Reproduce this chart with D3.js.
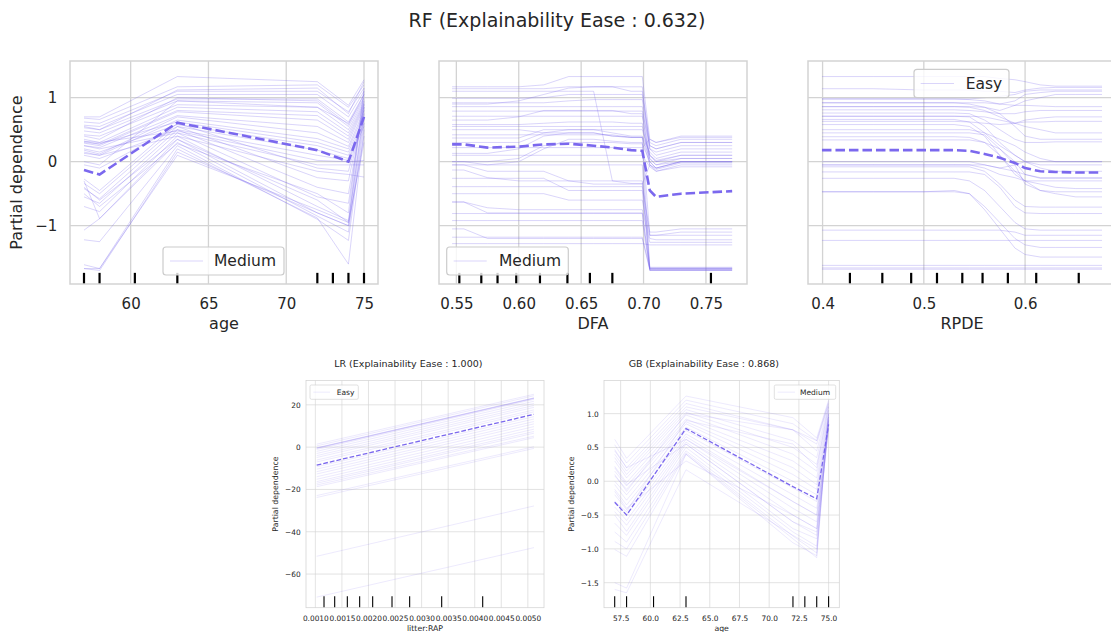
<!DOCTYPE html>
<html><head><meta charset="utf-8">
<script src="https://cdn.jsdelivr.net/npm/d3@7"></script>
<style>body{margin:0;background:#fff}svg{display:block;font-family:"DejaVu Sans",sans-serif}</style>
</head><body><svg id="c" width="1111" height="632"></svg>
<script>
// ---------------- DATA ----------------
const mainTitle = "RF (Explainability Ease : 0.632)";
const lrTitle = "LR (Explainability Ease : 1.000)";
const gbTitle = "GB (Explainability Ease : 0.868)";

// RF / age
const rfAgeGrid = [57, 58, 63, 72, 74, 75];
const rfAgeIce = [
  [0.70, 0.70, 1.33, 1.25, 0.88, 1.28],
  [0.68, 0.66, 1.17, 1.20, 0.85, 1.20],
  [0.62, 0.60, 1.10, 1.10, 0.78, 1.15],
  [0.57, 0.55, 1.05, 1.05, 0.70, 1.10],
  [0.53, 0.50, 0.98, 0.98, 0.62, 1.05],
  [0.48, 0.45, 0.95, 0.92, 0.55, 0.98],
  [0.42, 0.40, 0.89, 0.85, 0.50, 0.95],
  [0.35, 0.30, 0.85, 0.78, 0.45, 0.92],
  [0.32, 0.27, 0.80, 0.72, 0.40, 0.90],
  [0.29, 0.25, 0.78, 0.65, 0.35, 0.88],
  [0.25, 0.22, 0.72, 0.55, 0.30, 0.85],
  [0.18, 0.12, 0.70, 0.45, 0.24, 0.80],
  [0.13, 0.10, 0.65, 0.36, 0.20, 0.75],
  [0.30, 0.28, 0.62, 0.30, 0.15, 0.70],
  [0.20, 0.15, 0.58, 0.25, 0.10, 0.65],
  [-0.05, -0.10, 0.55, 0.18, 0.05, 0.60],
  [0.10, 0.05, 0.50, 0.10, 0.02, 0.55],
  [0.32, 0.30, 0.48, 0.02, 0.00, 0.02],
  [0.25, 0.20, 0.45, -0.05, -0.05, -0.05],
  [0.15, 0.10, 0.40, -0.15, -0.20, -0.24],
  [-0.27, -0.45, 0.60, -0.10, -0.15, 0.80],
  [-0.34, -0.50, 0.55, -0.25, -0.30, 0.85],
  [-0.42, -0.58, 0.50, -0.40, -0.50, 0.90],
  [-0.55, -0.65, 0.45, -0.55, -0.65, 0.95],
  [-0.70, -0.78, 0.40, -0.70, -0.92, 0.75],
  [-0.30, -0.89, 0.35, -0.80, -1.00, 0.85],
  [-1.07, -0.89, 0.30, -0.85, -1.10, 0.70],
  [-1.22, -1.25, 0.25, -0.90, -1.23, 0.60],
  [-1.61, -1.67, 0.20, -0.88, -1.60, 0.50],
  [-1.67, -1.70, 0.15, -0.80, -1.00, 0.40],
  [-1.67, -1.67, 0.10, -0.75, -0.95, 0.30],
  [-0.40, -0.60, 0.35, -0.60, -0.95, 1.10],
  [-0.50, -0.70, 0.28, -0.50, -0.80, 1.15],
  [0.00, -0.05, 0.95, 0.85, 0.60, 1.00],
  [0.55, 0.50, 1.12, 1.15, 0.75, 1.25],
  [0.40, 0.35, 1.00, 0.95, 0.58, 1.05]
];
const rfAgePd = [-0.13, -0.20, 0.61, 0.18, 0.00, 0.70];
const ageRug = [57, 58, 60.27, 63, 72, 73, 74, 75];

// RF / DFA
const rfDfaGrid = [0.5466, 0.556, 0.575, 0.60, 0.62, 0.64, 0.66, 0.675, 0.69, 0.699, 0.705, 0.71, 0.73, 0.771];
const rfDfaIce = [
  [1.17, 1.17, 1.17, 1.17, 1.20, 1.33, 1.33, 1.33, 1.33, 1.33, 0.35, 0.30, 0.40, 0.40],
  [1.14, 1.14, 1.14, 1.14, 1.14, 1.17, 1.17, 1.17, 1.10, 1.10, 0.30, 0.25, 0.35, 0.35],
  [0.99, 0.99, 0.99, 0.99, 1.00, 1.05, 1.05, 1.05, 1.05, 1.05, 0.25, 0.20, 0.30, 0.30],
  [0.92, 0.92, 0.92, 0.92, 0.92, 0.95, 0.97, 0.97, 0.97, 0.97, 0.20, 0.10, 0.20, 0.20],
  [0.86, 0.86, 0.86, 0.86, 0.86, 0.86, 0.86, 0.86, 0.86, 0.86, 0.10, 0.00, 0.05, 0.05],
  [1.10, 1.10, 1.10, 1.10, 1.10, 1.10, 1.10, -0.30, -0.34, -0.34, -1.10, -1.10, -1.05, -1.05],
  [0.71, 0.71, 0.71, 0.71, 0.71, 0.71, 0.71, 0.71, 0.71, 0.71, 0.05, -0.05, 0.00, 0.00],
  [0.65, 0.65, 0.65, 0.70, 0.80, 0.80, 0.80, 0.80, 0.75, 0.75, 0.00, -0.10, 0.00, 0.00],
  [0.58, 0.58, 0.58, 0.58, 0.60, 0.62, 0.62, 0.62, 0.60, 0.60, -0.05, -0.10, 0.00, 0.00],
  [0.50, 0.50, 0.50, 0.50, 0.45, 0.45, 0.45, 0.40, 0.38, 0.38, -0.05, -0.12, -0.02, -0.02],
  [0.42, 0.42, 0.42, 0.42, 0.42, 0.42, 0.42, 0.42, 0.38, 0.38, -1.15, -1.15, -1.10, -1.10],
  [0.37, 0.37, 0.37, 0.37, 0.50, 0.50, 0.50, 0.50, 0.50, 0.50, 0.10, 0.00, 0.10, 0.10],
  [0.13, 0.13, 0.13, 0.20, 0.40, 0.45, 0.45, 0.40, 0.38, 0.38, 0.05, -0.05, 0.05, 0.05],
  [0.00, 0.00, 0.00, 0.05, 0.25, 0.30, 0.30, 0.30, 0.28, 0.28, 0.00, -0.10, 0.00, 0.00],
  [0.00, 0.00, -0.05, 0.00, 0.20, 0.35, 0.35, 0.32, 0.30, 0.30, -1.65, -1.65, -1.65, -1.65],
  [-0.05, -0.05, -0.05, -0.05, -0.05, -0.05, -0.05, -0.05, -0.05, -0.05, -1.68, -1.68, -1.68, -1.68],
  [-0.13, -0.13, -0.25, -0.30, -0.30, -0.30, -0.30, -0.30, -0.30, -0.30, -1.70, -1.70, -1.70, -1.70],
  [-0.26, -0.26, -0.26, -0.26, -0.26, -0.45, -0.45, -0.45, -0.45, -0.45, -1.66, -1.66, -1.66, -1.66],
  [-0.39, -0.39, -0.39, -0.39, -0.39, -0.39, -0.39, -0.39, -0.39, -0.39, -1.15, -1.15, -1.15, -1.15],
  [-0.50, -0.50, -0.50, -0.50, -0.50, -0.60, -0.60, -0.60, -0.60, -0.60, -1.20, -1.22, -1.22, -1.22],
  [-0.63, -0.63, -0.72, -0.75, -0.75, -0.75, -0.75, -0.75, -0.75, -0.75, -1.26, -1.26, -1.26, -1.26],
  [-0.63, -0.63, -0.80, -0.80, -0.80, -0.80, -0.80, -0.80, -0.80, -0.80, -1.67, -1.67, -1.67, -1.67],
  [-0.81, -0.81, -0.81, -0.81, -0.81, -0.81, -0.81, -0.81, -0.81, -0.81, -1.68, -1.68, -1.68, -1.68],
  [-0.92, -0.92, -0.92, -0.92, -0.92, -0.92, -0.92, -0.92, -0.92, -0.92, -1.70, -1.70, -1.70, -1.70],
  [-1.05, -1.05, -1.20, -1.20, -1.20, -1.20, -1.20, -1.20, -1.20, -1.20, -1.69, -1.69, -1.69, -1.69],
  [-1.18, -1.18, -1.18, -1.18, -1.18, -1.18, -1.18, -1.18, -1.18, -1.18, -1.67, -1.67, -1.67, -1.67],
  [-1.28, -1.28, -1.28, -1.28, -1.28, -1.28, -1.28, -1.28, -1.28, -1.28, -1.30, -1.30, -1.30, -1.30],
  [0.30, 0.30, 0.30, 0.30, 0.45, 0.50, 0.50, 0.45, 0.40, 0.40, 0.15, 0.05, 0.15, 0.15],
  [0.22, 0.22, 0.22, 0.22, 0.22, 0.22, 0.22, 0.22, 0.22, 0.22, 0.35, 0.30, 0.38, 0.38],
  [0.79, 0.79, 0.79, 0.79, 0.79, 0.79, 0.79, 0.79, 0.79, 0.79, 0.25, 0.20, 0.30, 0.30],
  [0.90, 0.90, 0.90, 0.95, 1.05, 1.15, 1.17, 1.17, 1.17, 1.17, 0.20, 0.15, 0.25, 0.25],
  [-0.05, -0.05, -0.15, -0.15, -0.15, -0.30, -0.35, -0.35, -0.35, -0.35, -0.05, -0.15, -0.05, -0.05],
  [0.10, 0.10, 0.10, 0.10, 0.10, 0.10, 0.10, 0.10, 0.10, 0.10, -0.08, -0.15, -0.08, -0.08],
  [0.55, 0.55, 0.55, 0.55, 0.55, 0.55, 0.55, 0.55, 0.55, 0.55, 0.10, 0.02, 0.10, 0.10]
];
const rfDfaPd = [0.27, 0.27, 0.22, 0.235, 0.27, 0.28, 0.25, 0.22, 0.18, 0.17, -0.45, -0.55, -0.50, -0.46];
const dfaRug = [0.5524, 0.570, 0.583, 0.598, 0.617, 0.639, 0.657, 0.675, 0.754];

// RF / RPDE
const rfRpdeGrid = [0.3994, 0.45, 0.50, 0.53, 0.545, 0.56, 0.575, 0.59, 0.60, 0.615, 0.63, 0.65, 0.676];
const rfRpdeIce = [
  [1.33, 1.33, 1.33, 1.33, 1.33, 1.33, 1.30, 1.28, 1.25, 1.20, 1.18, 1.18, 1.18],
  [1.14, 1.14, 1.12, 1.12, 1.12, 1.10, 1.10, 1.08, 1.12, 1.15, 1.16, 1.16, 1.16],
  [0.98, 0.98, 0.98, 0.98, 0.98, 1.00, 1.02, 1.05, 1.10, 1.12, 1.12, 1.12, 1.12],
  [0.98, 0.98, 0.98, 0.98, 0.97, 0.95, 0.90, 0.95, 1.05, 1.08, 1.10, 1.10, 1.10],
  [0.92, 0.92, 0.92, 0.92, 0.92, 0.92, 0.90, 0.88, 0.88, 0.87, 0.86, 0.86, 0.86],
  [0.86, 0.86, 0.86, 0.86, 0.85, 0.80, 0.70, 0.60, 0.55, 0.50, 0.45, 0.45, 0.45],
  [0.81, 0.81, 0.81, 0.81, 0.80, 0.78, 0.75, 0.75, 0.78, 0.80, 0.80, 0.80, 0.80],
  [0.76, 0.76, 0.76, 0.76, 0.75, 0.65, 0.50, 0.35, 0.30, 0.30, 0.31, 0.31, 0.31],
  [0.71, 0.71, 0.71, 0.71, 0.70, 0.55, 0.30, 0.10, 0.00, -0.05, -0.05, -0.05, -0.05],
  [0.63, 0.63, 0.63, 0.63, 0.62, 0.60, 0.58, 0.60, 0.65, 0.68, 0.70, 0.70, 0.70],
  [0.58, 0.58, 0.58, 0.58, 0.55, 0.40, 0.10, -0.20, -0.30, -0.35, -0.40, -0.42, -0.42],
  [0.50, 0.50, 0.50, 0.50, 0.50, 0.45, 0.35, 0.25, 0.15, 0.05, 0.00, 0.00, 0.00],
  [0.39, 0.39, 0.39, 0.39, 0.38, 0.30, 0.10, -0.15, -0.30, -0.45, -0.50, -0.55, -0.55],
  [0.34, 0.34, 0.34, 0.34, 0.34, 0.30, 0.20, 0.00, -0.20, -0.25, -0.25, -0.25, -0.25],
  [-0.05, -0.05, -0.05, -0.05, -0.05, -0.10, -0.20, -0.25, -0.30, -0.30, -0.30, -0.30, -0.30],
  [-0.08, -0.08, -0.08, -0.08, -0.08, -0.15, -0.35, -0.60, -0.70, -0.71, -0.71, -0.71, -0.71],
  [-0.16, -0.16, -0.16, -0.16, -0.16, -0.20, -0.40, -0.70, -0.80, -0.81, -0.81, -0.81, -0.81],
  [-0.26, -0.26, -0.26, -0.26, -0.30, -0.45, -0.70, -0.95, -1.05, -1.07, -1.07, -1.07, -1.07],
  [-0.47, -0.47, -0.47, -0.47, -0.50, -0.70, -0.95, -1.20, -1.30, -1.34, -1.34, -1.34, -1.34],
  [-0.47, -0.47, -0.47, -0.45, -0.50, -0.75, -1.05, -1.35, -1.45, -1.49, -1.49, -1.49, -1.49],
  [-1.07, -1.07, -1.07, -1.07, -1.07, -1.07, -1.07, -1.10, -1.15, -1.15, -1.15, -1.15, -1.15],
  [-1.23, -1.23, -1.23, -1.23, -1.23, -1.23, -1.23, -1.23, -1.23, -1.23, -1.23, -1.23, -1.23],
  [-1.62, -1.62, -1.62, -1.62, -1.62, -1.62, -1.62, -1.62, -1.62, -1.62, -1.62, -1.62, -1.62],
  [-1.66, -1.66, -1.66, -1.66, -1.66, -1.66, -1.66, -1.66, -1.66, -1.66, -1.66, -1.66, -1.66],
  [-1.68, -1.68, -1.68, -1.68, -1.68, -1.68, -1.68, -1.68, -1.68, -1.68, -1.68, -1.68, -1.68],
  [0.00, 0.00, 0.00, 0.00, 0.00, -0.05, -0.10, -0.15, -0.20, -0.26, -0.26, -0.26, -0.26],
  [0.66, 0.66, 0.66, 0.66, 0.62, 0.45, 0.25, 0.10, 0.00, -0.10, -0.15, -0.15, -0.15],
  [0.86, 0.86, 0.86, 0.86, 0.86, 0.85, 0.75, 0.55, 0.40, 0.35, 0.35, 0.35, 0.35],
  [0.45, 0.45, 0.45, 0.45, 0.45, 0.42, 0.20, -0.05, -0.35, -0.45, -0.47, -0.47, -0.47],
  [0.92, 0.92, 0.92, 0.92, 0.90, 0.85, 0.80, 0.88, 0.95, 1.00, 1.05, 1.05, 1.05],
  [0.71, 0.71, 0.71, 0.71, 0.71, 0.70, 0.65, 0.60, 0.62, 0.62, 0.63, 0.63, 0.63],
  [-0.05, -0.05, -0.05, -0.05, -0.05, -0.05, -0.10, -0.05, 0.00, 0.00, 0.00, 0.00, 0.00]
];
const rfRpdePd = [0.18, 0.18, 0.18, 0.18, 0.17, 0.12, 0.06, -0.02, -0.10, -0.15, -0.16, -0.17, -0.17];
const rpdeRug = [0.427, 0.459, 0.4875, 0.513, 0.538, 0.558, 0.583, 0.611, 0.653];

// LR / jitter:RAP
const lrGrid = [0.001025, 0.005115];
const lrIce = [
  [1.4, 25.0], [0.6, 24.3], [-0.3, 23.3], [-0.4, 23.2], [-0.5, 23.1], [-0.6, 23.0],
  [-1.1, 22.6], [-2.0, 21.7], [-3.0, 20.7], [-4.0, 19.7], [-4.9, 18.8], [-6.1, 17.6],
  [-7.0, 16.7], [-9.3, 14.4], [-10.4, 13.3], [-11.6, 12.1], [-12.7, 11.0], [-14.0, 9.7],
  [-15.2, 8.5], [-16.3, 7.4], [-17.1, 6.6], [-17.9, 5.2], [-18.7, 4.5], [-22.9, 0.2],
  [-23.8, -0.6], [-51.6, -27.8], [-70.9, -47.5]
];
const lrPd = [-8.5, 15.5];
const lrRug = [0.001163, 0.001364, 0.001602, 0.001834, 0.002079, 0.002443, 0.002775, 0.003378, 0.00415];

// GB / age
const gbAgeGrid = [57, 58, 63, 72, 74, 75];
const gbAgeIce = [
  [0.62, 0.34, 1.26, 0.94, 0.64, 1.20],
  [0.54, 0.27, 1.20, 0.85, 0.60, 1.18],
  [0.47, 0.20, 1.15, 0.76, 0.55, 1.15],
  [0.40, 0.15, 1.10, 0.76, 0.45, 1.12],
  [0.35, 0.10, 1.06, 0.60, 0.35, 1.10],
  [0.30, 0.05, 1.02, 0.50, 0.25, 1.05],
  [0.22, -0.02, 0.98, 0.40, 0.15, 1.00],
  [0.15, -0.07, 0.92, 0.30, 0.05, 0.98],
  [0.08, -0.12, 0.88, 0.20, -0.05, 0.95],
  [0.00, -0.20, 0.85, 0.10, -0.12, 0.92],
  [-0.05, -0.28, 0.80, 0.00, -0.20, 0.90],
  [-0.12, -0.35, 0.75, -0.10, -0.30, 0.88],
  [-0.20, -0.42, 0.70, -0.20, -0.40, 0.85],
  [-0.30, -0.50, 0.66, -0.30, -0.50, 0.82],
  [-0.38, -0.58, 0.62, -0.40, -0.60, 0.80],
  [-0.45, -0.65, 0.58, -0.50, -0.70, 0.78],
  [-0.50, -0.74, 0.55, -0.60, -0.80, 0.76],
  [-0.62, -0.80, 0.50, -0.70, -0.85, 0.85],
  [-0.75, -0.90, 0.45, -0.75, -0.96, 0.90],
  [-0.89, -1.00, 0.42, -0.81, -1.06, 0.95],
  [-1.01, -1.11, 0.40, -0.85, -1.13, 1.00],
  [-1.50, -1.58, 0.40, -0.91, -1.10, 1.05],
  [-1.60, -1.65, 0.17, -0.80, -1.00, 0.95],
  [0.10, -0.15, 1.00, 0.76, 0.60, 1.15],
  [-0.30, -0.45, 0.90, 0.55, 0.20, 1.10],
  [0.20, -0.05, 0.55, -0.60, -0.75, 0.90],
  [-0.15, -0.40, 0.30, -0.50, -0.70, 1.00],
  [0.45, 0.20, 0.62, -0.30, -0.50, 0.85]
];
const gbAgePd = [-0.31, -0.50, 0.78, -0.08, -0.26, 0.84];

// tick values
const rfYTicks = [-1, 0, 1];
const ageTicksTop = [60, 65, 70, 75];
const dfaTicks = [0.55, 0.60, 0.65, 0.70, 0.75];
const rpdeTicks = [0.4, 0.5, 0.6];
const lrXTicks = [0.0010, 0.0015, 0.0020, 0.0025, 0.0030, 0.0035, 0.0040, 0.0045, 0.0050];
const lrYTicks = [-60, -40, -20, 0, 20];
const gbXTicks = [57.5, 60.0, 62.5, 65.0, 67.5, 70.0, 72.5, 75.0];
const gbYTicks = [-1.5, -1.0, -0.5, 0.0, 0.5, 1.0];

// ---------------- DRAW ----------------
const svg = d3.select("#c");
const ICE = "#7b68ee";
const GRID = "#d3d3d3";
const TXT = "#262626";
let clipN = 0;

function panel(o) {
  const g = svg.append("g");
  const x = d3.scaleLinear().domain(o.xDomain).range([o.left, o.left + o.w]);
  const y = d3.scaleLinear().domain(o.yDomain).range([o.top + o.h, o.top]);
  const s = o.s; // scale factor for fonts / strokes
  const id = "clip" + (clipN++);
  g.append("clipPath").attr("id", id).append("rect")
    .attr("x", o.left).attr("y", o.top).attr("width", o.w).attr("height", o.h);

  // grid
  g.append("g").selectAll("line").data(o.xTicks).join("line")
    .attr("x1", d => x(d)).attr("x2", d => x(d)).attr("y1", o.top).attr("y2", o.top + o.h)
    .attr("stroke", GRID).attr("stroke-width", 1.3 * s);
  g.append("g").selectAll("line").data(o.yTicks).join("line")
    .attr("y1", d => y(d)).attr("y2", d => y(d)).attr("x1", o.left).attr("x2", o.left + o.w)
    .attr("stroke", GRID).attr("stroke-width", 1.3 * s);

  const plot = g.append("g").attr("clip-path", `url(#${id})`);
  const line = d3.line().x((d, i) => x(o.grid[i])).y(d => y(d));
  plot.selectAll("path.ice").data(o.ice).join("path").attr("class", "ice")
    .attr("d", line).attr("fill", "none").attr("stroke", ICE)
    .attr("stroke-opacity", 0.28).attr("stroke-width", 1.0 * s);
  plot.append("path").attr("d", line(o.pd)).attr("fill", "none").attr("stroke", ICE)
    .attr("stroke-width", 2.6 * s).attr("stroke-dasharray", `${9.5 * s},${4 * s}`);
  // rug
  plot.selectAll("line.rug").data(o.rug).join("line").attr("class", "rug")
    .attr("x1", d => x(d)).attr("x2", d => x(d))
    .attr("y1", o.top + o.h).attr("y2", o.top + o.h - 0.05 * o.h)
    .attr("stroke", "#000").attr("stroke-width", 2.2 * s);

  // frame
  g.append("rect").attr("x", o.left).attr("y", o.top).attr("width", o.w).attr("height", o.h)
    .attr("fill", "none").attr("stroke", GRID).attr("stroke-width", 1.5 * s);

  // axes
  const xa = g.append("g").attr("transform", `translate(0,${o.top + o.h})`)
    .call(d3.axisBottom(x).tickValues(o.xTicks).tickFormat(d3.format(o.xFmt)).tickSize(0).tickPadding(o.xPad));
  xa.select(".domain").remove();
  xa.selectAll("text").attr("fill", TXT).attr("font-size", o.tickFs).attr("font-family", "DejaVu Sans");
  if (o.yLabels) {
    const ya = g.append("g").attr("transform", `translate(${o.left},0)`)
      .call(d3.axisLeft(y).tickValues(o.yTicks).tickFormat(d3.format(o.yFmt)).tickSize(0).tickPadding(o.yPad));
    ya.select(".domain").remove();
    ya.selectAll("text").attr("fill", TXT).attr("font-size", o.tickFs).attr("font-family", "DejaVu Sans");
    g.append("text").attr("transform", `translate(${o.yLabX},${o.top + o.h / 2}) rotate(-90)`)
      .attr("text-anchor", "middle").attr("fill", TXT).attr("font-size", o.labFs).text("Partial dependence");
  }
  g.append("text").attr("x", o.left + o.w / 2).attr("y", o.xLabY).attr("text-anchor", "middle")
    .attr("fill", TXT).attr("font-size", o.labFs).text(o.xLabel);

  // legend
  const L = o.legend;
  g.append("rect").attr("x", L.x).attr("y", L.y).attr("width", L.w).attr("height", L.h)
    .attr("rx", 3 * s).attr("fill", "#fff").attr("fill-opacity", 0.8)
    .attr("stroke", "#cccccc").attr("stroke-width", 1.2 * s);
  g.append("line").attr("x1", L.x + L.l0).attr("x2", L.x + L.l1)
    .attr("y1", L.y + L.h / 2).attr("y2", L.y + L.h / 2)
    .attr("stroke", ICE).attr("stroke-opacity", 0.28).attr("stroke-width", 1.0 * s);
  g.append("text").attr("x", L.x + L.tx).attr("y", L.y + L.h / 2).attr("dy", "0.35em")
    .attr("fill", TXT).attr("font-size", o.legFs).text(L.text);
}

// title
svg.append("text").attr("x", 557).attr("y", 27).attr("text-anchor", "middle")
  .attr("fill", TXT).attr("font-size", 19).text(mainTitle);

const topCommon = { top: 61, h: 223, w: 308, s: 1, yDomain: [-1.911, 1.573], yTicks: rfYTicks,
  yFmt: "d", xPad: 14.5, yPad: 12.7, tickFs: 15, labFs: 16, legFs: 15.5, xLabY: 329, yLabX: 22 };

panel(Object.assign({}, topCommon, {
  left: 70, xDomain: [56.1, 75.9], xTicks: ageTicksTop, xFmt: "d", grid: rfAgeGrid,
  ice: rfAgeIce, pd: rfAgePd, rug: ageRug, yLabels: true, xLabel: "age",
  legend: { x: 163, y: 247, w: 121, h: 28, l0: 7, l1: 40, tx: 51, text: "Medium" }
}));
panel(Object.assign({}, topCommon, {
  left: 439, xDomain: [0.5361, 0.7829], xTicks: dfaTicks, xFmt: ".2f", grid: rfDfaGrid,
  ice: rfDfaIce, pd: rfDfaPd, rug: dfaRug, yLabels: false, xLabel: "DFA",
  legend: { x: 446.7, y: 247, w: 121.6, h: 28, l0: 7, l1: 40, tx: 52.3, text: "Medium" }
}));
panel(Object.assign({}, topCommon, {
  left: 808, xDomain: [0.3856, 0.6898], xTicks: rpdeTicks, xFmt: ".1f", grid: rfRpdeGrid,
  ice: rfRpdeIce, pd: rfRpdePd, rug: rpdeRug, yLabels: false, xLabel: "RPDE",
  legend: { x: 914, y: 69.3, w: 95, h: 28.4, l0: 6.7, l1: 40, tx: 51.7, text: "Easy" }
}));

const botCommon = { top: 380.5, h: 227.2, s: 0.5, xPad: 7.6, yPad: 5.3, tickFs: 7.4, labFs: 7.8,
  legFs: 7.5, xLabY: 630.5, yLabels: true };

panel(Object.assign({}, botCommon, {
  left: 306, w: 238, xDomain: [0.000824, 0.005304], yDomain: [-75.9, 31.5],
  xTicks: lrXTicks, yTicks: lrYTicks, xFmt: ".4f", yFmt: "d", grid: lrGrid,
  ice: lrIce, pd: lrPd, rug: lrRug, xLabel: "litter:RAP", yLabX: 278,
  legend: { x: 310, y: 385, w: 48.3, h: 14.3, l0: 3.3, l1: 20, tx: 26.7, text: "Easy" }
}));
panel(Object.assign({}, botCommon, {
  left: 604, w: 235.3, xDomain: [56.1, 75.9], yDomain: [-1.87, 1.49],
  xTicks: gbXTicks, yTicks: gbYTicks, xFmt: ".1f", yFmt: ".1f", grid: gbAgeGrid,
  ice: gbAgeIce, pd: gbAgePd, rug: ageRug, xLabel: "age", yLabX: 574,
  legend: { x: 774.3, y: 385, w: 61.4, h: 14.3, l0: 3.4, l1: 20.7, tx: 25.7, text: "Medium" }
}));

svg.append("text").attr("x", 408.3).attr("y", 366.5).attr("text-anchor", "middle")
  .attr("fill", TXT).attr("font-size", 9.5).text(lrTitle);
svg.append("text").attr("x", 703.8).attr("y", 366.5).attr("text-anchor", "middle")
  .attr("fill", TXT).attr("font-size", 9.5).text(gbTitle);
</script>
</body></html>
